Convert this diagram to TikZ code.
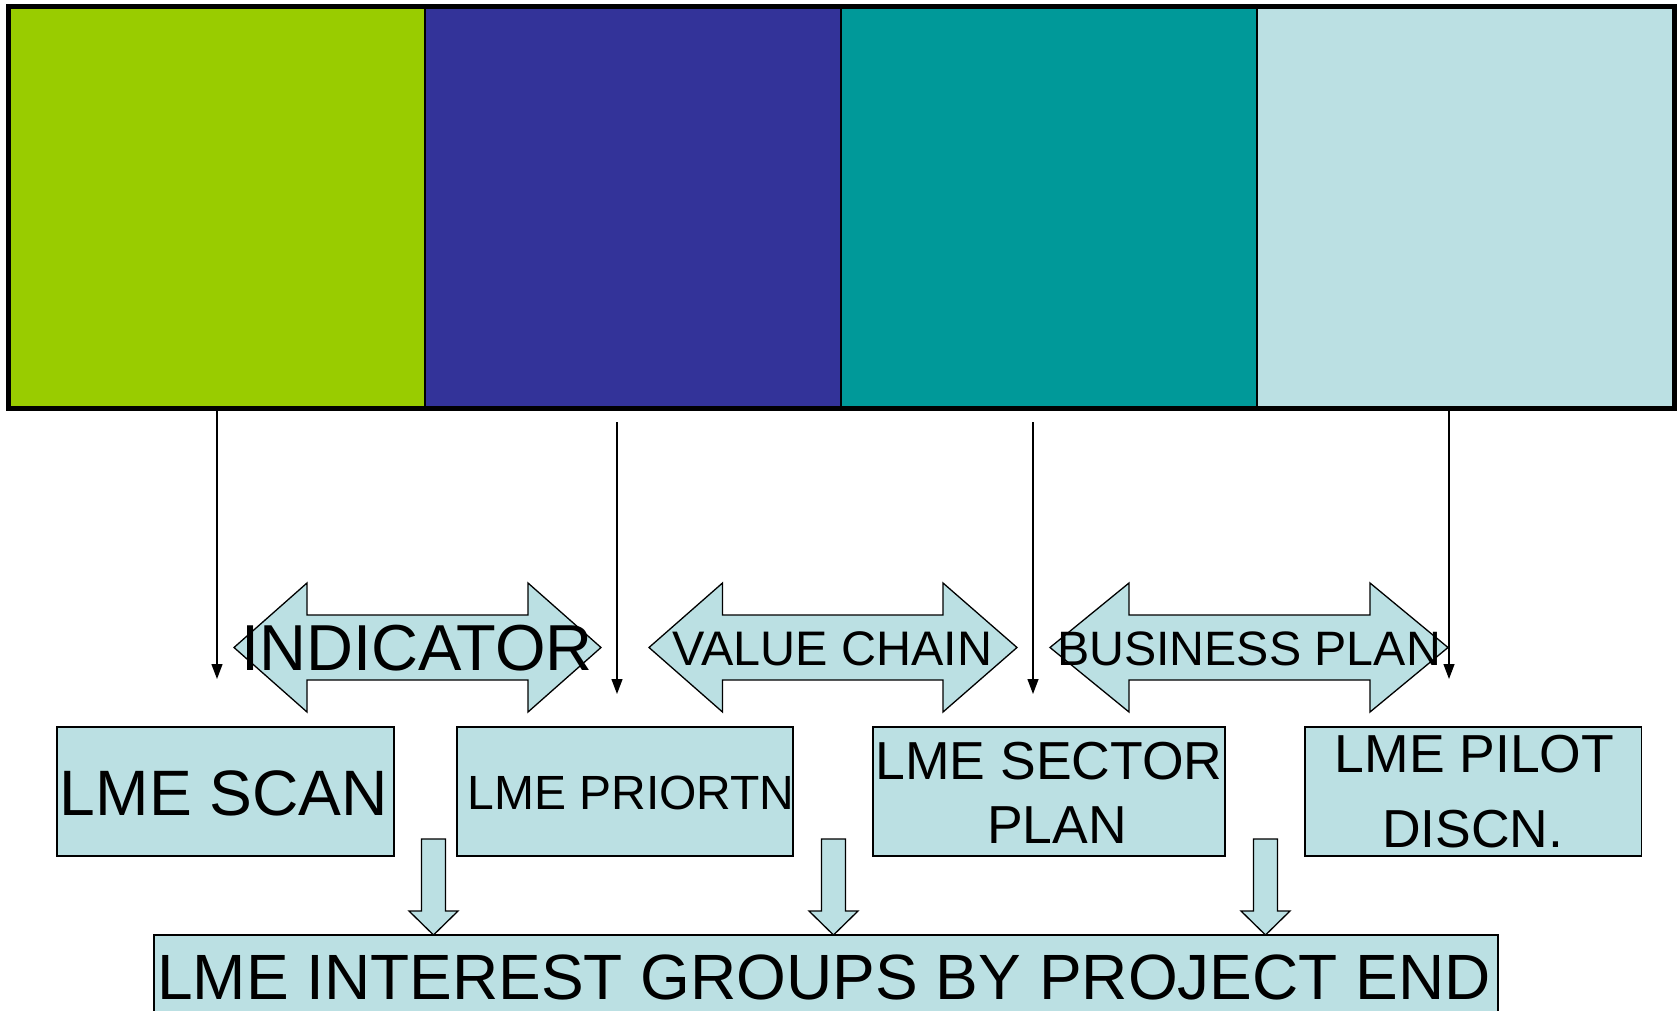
\documentclass[tikz,border=0pt]{standalone}
\usepackage{fontspec}
\setmainfont{Liberation Sans}
\usetikzlibrary{arrows.meta}
\definecolor{cgreen}{HTML}{99CC00}
\definecolor{cblue}{HTML}{333399}
\definecolor{cteal}{HTML}{009999}
\definecolor{clight}{HTML}{BBE0E3}
\begin{document}
\begin{tikzpicture}[x=1pt,y=-1pt,
  cell/.style={rectangle,draw=black,line width=2pt,inner sep=0pt,minimum width=416pt,minimum height=399.5pt},
  box/.style={rectangle,draw=black,line width=1.5pt,fill=clight,inner sep=0pt,minimum height=129pt},
  lbl/.style={anchor=base,inner sep=0pt},
  thinarrow/.style={line width=1.3pt,-{Triangle[width=11pt,length=15pt]}},
  blockshape/.style={draw=black,line width=1.3pt,fill=clight,line join=miter},
  fA/.style={font=\fontsize{64.2}{70}\selectfont},
  fB/.style={font=\fontsize{48}{52}\selectfont},
  fC/.style={font=\fontsize{53.5}{58}\selectfont}]
\useasboundingbox (0,0) rectangle (1679,1011);
\clip (0,0) rectangle (1679,1011);
% top bar
\node[cell,fill=cgreen] (c1) at (217,207.25) {};
\node[cell,fill=cblue]  (c2) at (633,207.25) {};
\node[cell,fill=cteal]  (c3) at (1049,207.25) {};
\node[cell,fill=clight] (c4) at (1465,207.25) {};
\draw[line width=5pt] (c1.north west) rectangle (c4.south east);
% double arrows
\draw[blockshape] (234,647.5) -- (307,583) -- (307,615) -- (528,615) -- (528,583) -- (601,647.5) -- (528,712) -- (528,680) -- (307,680) -- (307,712) -- cycle;
\draw[blockshape] (649,647.5) -- (722.5,583) -- (722.5,615) -- (943,615) -- (943,583) -- (1017,647.5) -- (943,712) -- (943,680) -- (722.5,680) -- (722.5,712) -- cycle;
\draw[blockshape] (1050,647.5) -- (1129,583) -- (1129,615) -- (1370,615) -- (1370,583) -- (1448,647.5) -- (1370,712) -- (1370,680) -- (1129,680) -- (1129,712) -- cycle;
\node[lbl,font=\fontsize{65}{70}\selectfont] (tind) at (417,670.5) {INDICATOR};
\node[lbl,font=\fontsize{48.5}{52}\selectfont] (tval) at (832.5,665) {VALUE CHAIN};
\node[lbl,font=\fontsize{48.3}{52}\selectfont] (tbus) at (1249,665) {BUSINESS PLAN};
% boxes
\node[box,minimum width=337pt] (b1) at (225.5,791.5) {};
\node[box,minimum width=336pt] (b2) at (625,791.5) {};
\node[box,minimum width=352pt] (b3) at (1049,791.5) {};
\node[box,minimum width=336.5pt] (b4) at (1473.25,791.5) {};
\node[lbl,fA] (t1) at (224,815.4) {LME SCAN};
\node[lbl,fB] (t2) at (631,809) {LME PRIORTN};
\node[lbl,fC] (t3a) at (1049,779.6) {LME SECTOR};
\node[lbl,fC] (t3b) at (1057,843.6) {PLAN};
\node[lbl,fC] (t4a) at (1474.5,772) {LME PILOT};
\node[lbl,fC] (t4b) at (1472.7,847) {DISCN.};
% bottom box
\node[box,minimum width=1344pt] (bb) at (826,999.5) {};
\node[lbl,font=\fontsize{64}{70}\selectfont] (tb) at (824,999.7) {LME INTEREST GROUPS BY PROJECT END};
% block down arrows
\foreach \cx in {433.5,833.5,1265.5}{
  \draw[blockshape] (\cx-12,839) -- (\cx+12,839) -- (\cx+12,911) -- (\cx+24.5,911) -- (\cx,935) -- (\cx-24.5,911) -- (\cx-12,911) -- cycle;
}
% thin arrows
\coordinate (a1) at (217,679);
\coordinate (s2) at (617,422);
\coordinate (a2) at (617,694);
\coordinate (s3) at (1033,422);
\coordinate (a3) at (1033,694);
\coordinate (a4) at (1449,679);
\draw[thinarrow] (c1.south) -- (a1);
\draw[thinarrow] (s2) -- (a2);
\draw[thinarrow] (s3) -- (a3);
\draw[thinarrow] (a4 |- c4.south) -- (a4);
\end{tikzpicture}
\end{document}
